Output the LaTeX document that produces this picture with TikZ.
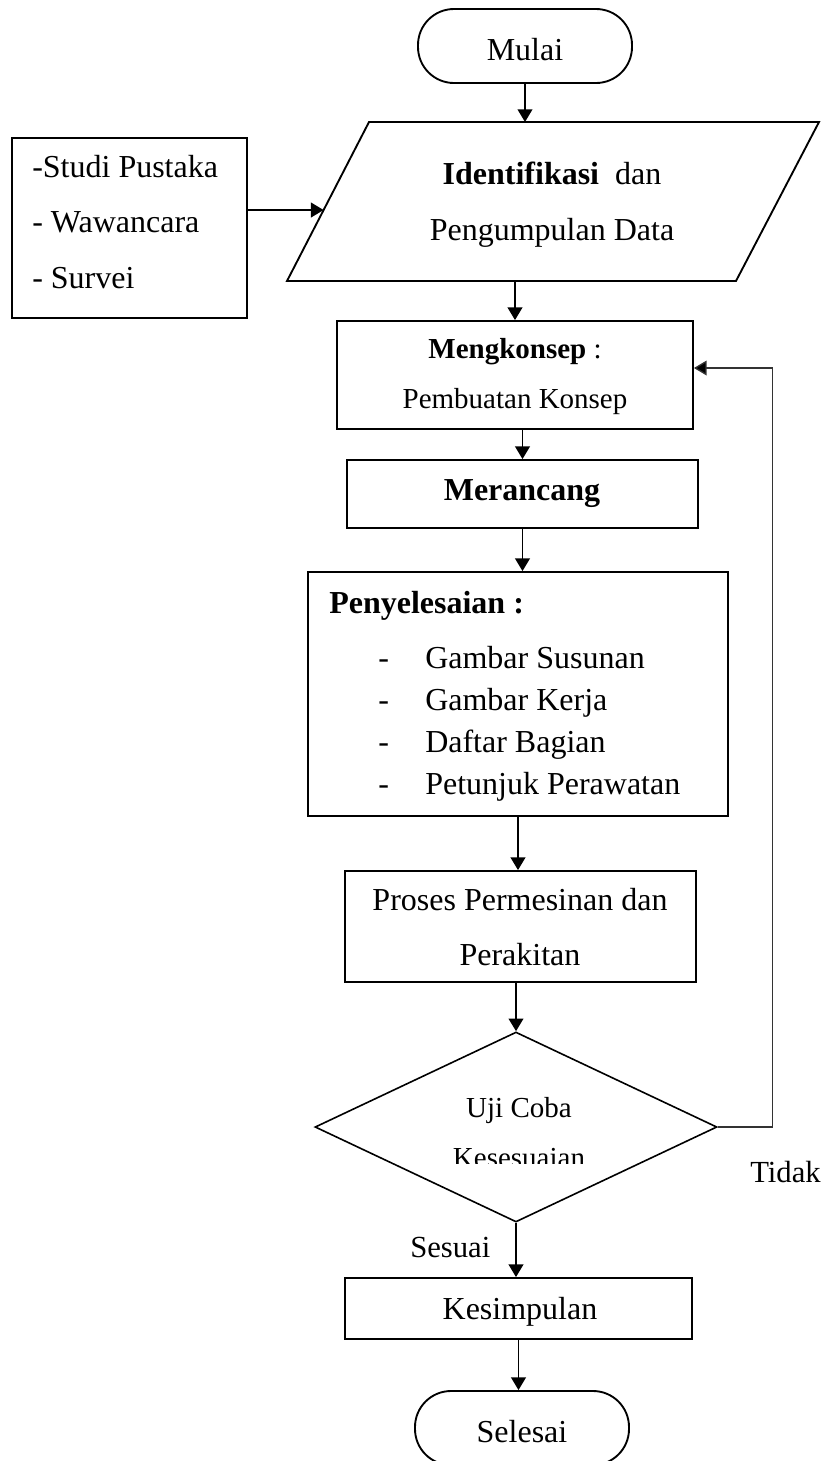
\documentclass[tikz,border=0pt]{standalone}
\usepackage{fontspec}
\setmainfont{Liberation Serif}
\usetikzlibrary{shapes.geometric,arrows.meta,calc}
\begin{document}
\begin{tikzpicture}[x=0.75pt,y=-0.75pt,
  box/.style={draw, line width=1.4pt, inner sep=0pt},
  term/.style={box, rounded corners=27pt},
  conn/.style={line width=1.4pt, -{Triangle[length=9.5pt,width=11pt]}},
  big/.style={font=\fontsize{24}{28}\selectfont, inner sep=0pt, anchor=base},
  mid/.style={font=\fontsize{21.75}{26}\selectfont, inner sep=0pt, anchor=base},
  lab/.style={font=\fontsize{23}{27}\selectfont, inner sep=0pt, anchor=base west}]
\useasboundingbox (0,0) rectangle (833,1461);
\clip (0,0) rectangle (833,1461);

% shapes
\node[term, minimum width=160.5pt, minimum height=55.5pt] (mulai) at (525,46) {};
\coordinate (identTL) at (369,122);
\coordinate (identTR) at (819,122);
\coordinate (identBR) at (736,281);
\coordinate (identBL) at (287,281);
\draw[line width=1.4pt, line join=miter] (identTL) -- (identTR) -- (identBR) -- (identBL) -- cycle;
\node[box, minimum width=176.25pt, minimum height=135pt] (left) at (129.5,228) {};
\node[box, minimum width=267pt, minimum height=81pt] (mengk) at (515,375) {};
\node[box, minimum width=263.25pt, minimum height=51pt] (meranc) at (522.5,494) {};
\node[box, minimum width=315pt, minimum height=183pt] (penyel) at (518,694) {};
\node[box, minimum width=263.25pt, minimum height=83.25pt] (proses) at (520.5,926.5) {};
\node[box, diamond, line width=1.2pt, minimum width=301.5pt, minimum height=142.5pt] (uji) at (516,1127) {};
\node[box, minimum width=260.25pt, minimum height=45.75pt] (kesim) at (518.5,1308.5) {};
\node[term, minimum width=160.5pt, minimum height=55.5pt] (selesai) at (522,1428) {};

% texts
\node[big] (tmulai) at (525,60) {Mulai};
\node[big] (tid1) at (552,184) {\textbf{Identifikasi}\ \ dan};
\node[big] (tid2) at (552,240) {Pengumpulan Data};
\node[big, anchor=base west] (tl1) at (32,177) {-Studi Pustaka};
\node[big, anchor=base west] (tl2) at (32,232) {- Wawancara};
\node[big, anchor=base west] (tl3) at (32,288) {- Survei};
\node[mid] (tm1) at (515,358) {\textbf{Mengkonsep} :};
\node[mid] (tm2) at (515,408) {Pembuatan Konsep};
\node[big] (tr) at (522,500) {\textbf{Merancang}};
\node[big, anchor=base west] (tp0) at (329,613) {\textbf{Penyelesaian :}};
\node[big, anchor=base west] (td1) at (378,668) {-};
\node[big, anchor=base west] (ti1) at (425,668) {Gambar Susunan};
\node[big, anchor=base west] (td2) at (378,710) {-};
\node[big, anchor=base west] (ti2) at (425,710) {Gambar Kerja};
\node[big, anchor=base west] (td3) at (378,752) {-};
\node[big, anchor=base west] (ti3) at (425,752) {Daftar Bagian};
\node[big, anchor=base west] (td4) at (378,794) {-};
\node[big, anchor=base west] (ti4) at (425,794) {Petunjuk Perawatan};
\node[big] (tpr1) at (520,910) {Proses Permesinan dan};
\node[big] (tpr2) at (520,965) {Perakitan};
\node[mid] (tu1) at (519,1117) {Uji Coba};
\begin{scope}
  \clip (380,1100) rectangle (660,1163);
  \node[mid] (tu2) at (519,1167) {Kesesuaian};
\end{scope}
\node[lab] (ttidak) at (750,1182) {Tidak};
\node[lab] (tsesuai) at (410,1257) {Sesuai};
\node[big] (tk) at (520,1319) {Kesimpulan};
\node[big] (ts) at (522,1442) {Selesai};

% connectors
\coordinate (identTop) at ($(identTL)!0.4!(identTR)$);
\coordinate (identBot) at ($(identBL)!0.52!(identBR)$);
\coordinate (lin) at ($(identBL)!0.4465!(identTL)$);
\draw[conn] (mulai.south) -- (mulai.south |- identTop);
\draw[conn] (left.east |- lin) -- (lin);
\draw[conn] (mengk.north |- identBot) -- (mengk.north);
\draw[conn] (meranc.north |- mengk.south) -- (meranc.north);
\draw[conn] (meranc.south) -- (meranc.south |- penyel.north);
\draw[conn] (penyel.south) -- (penyel.south |- proses.north);
\draw[conn] (uji.north |- proses.south) -- (uji.north);
\draw[conn] (uji.south) -- (uji.south |- kesim.north);
\draw[conn] (kesim.south) -- (kesim.south |- selesai.north);
\draw[line width=1pt, black!80, -{Triangle[length=9.5pt,width=11pt,fill=black]}]
  (uji.east) -- ++(55,0) |- ([yshift=5.25pt]mengk.east);
\end{tikzpicture}
\end{document}
